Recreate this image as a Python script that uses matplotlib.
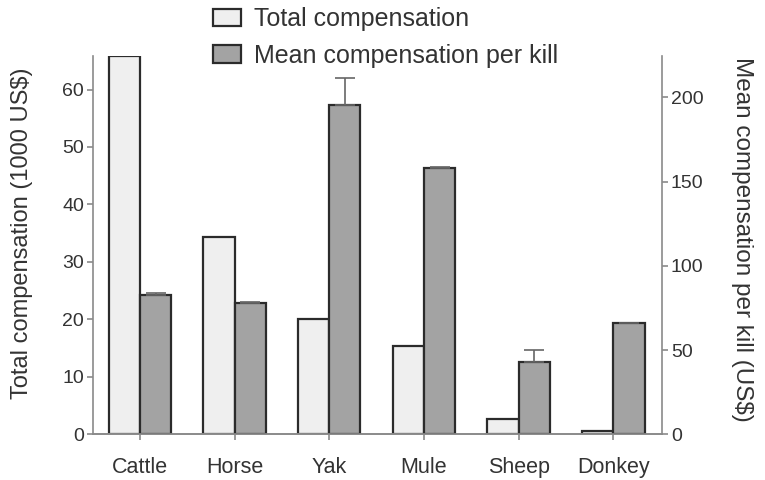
import matplotlib.pyplot as plt
import numpy as np
from matplotlib.patches import Patch

plt.rcParams['font.family'] = ['Liberation Sans', 'DejaVu Sans']

# data
animals = ['Cattle', 'Horse', 'Yak', 'Mule', 'Sheep', 'Donkey']
total_comp = [65.8, 34.3, 20.0, 15.3, 2.7, 0.6]          # 1000 US$
mean_comp = [82.7, 77.8, 195.4, 157.9, 42.8, 66.3]       # US$ per kill
mean_err = [1.3, 0.8, 16.2, 0.9, 7.3, np.nan]

light = '#efefef'
dark = '#a3a3a3'
edge = '#2b2b2b'
spine = '#8a8a8a'
textc = '#333333'

x = np.arange(len(animals))
w = 0.33

fig = plt.figure(figsize=(7.65, 4.8), dpi=100)
ax = fig.add_axes([0.121, 0.095, 0.745, 0.788])
ax2 = ax.twinx()

ax.bar(x - w / 2, total_comp, w, color=light, edgecolor=edge, linewidth=1.6)
ax2.bar(x + w / 2, mean_comp, w, color=dark, edgecolor=edge, linewidth=1.6)
ax2.errorbar(x + w / 2, mean_comp, yerr=[np.zeros(len(mean_err)), mean_err],
             fmt='none', ecolor='#666666', elinewidth=1.2, capsize=7, capthick=1.2)

ax.set_xlim(-0.5, 5.52)
ax.set_ylim(0, 65.8)
ax2.set_ylim(0, 224.5)
ax.set_yticks([0, 10, 20, 30, 40, 50, 60])
ax2.set_yticks([0, 50, 100, 150, 200])
ax.set_xticks(x)
ax.set_xticklabels(animals)

for a in (ax, ax2):
    a.spines['top'].set_visible(False)
    for s in ('left', 'right', 'bottom'):
        a.spines[s].set_color(spine)
        a.spines[s].set_linewidth(1.2)
    a.tick_params(colors=spine, labelcolor=textc, length=4, width=1.2)
ax.spines['right'].set_visible(False)
ax2.spines['left'].set_visible(False)
ax.tick_params(axis='y', labelsize=14, pad=2)
ax.tick_params(axis='x', labelsize=15.5, pad=12)
ax2.tick_params(axis='y', labelsize=14, pad=2)

ax.set_ylabel('Total compensation (1000 US$)', fontsize=17, color=textc, va='center')
ax.yaxis.set_label_coords(-0.124, 0.532)
ax2.set_ylabel('Mean compensation per kill (US$)', fontsize=17.5, color=textc,
               rotation=270, va='center')
ax2.yaxis.set_label_coords(1.139, 0.516)

handles = [Patch(facecolor=light, edgecolor=edge, linewidth=1.6),
           Patch(facecolor=dark, edgecolor=edge, linewidth=1.6)]
fig.legend(handles, ['Total compensation', 'Mean compensation per kill'],
           loc='upper left', bbox_to_anchor=(0.278, 0.985), frameon=False,
           fontsize=18, borderpad=0, borderaxespad=0, handlelength=1.15,
           handleheight=0.7, handletextpad=0.5, labelspacing=0.5,
           labelcolor=textc)

fig.savefig('out.png', dpi=100)
